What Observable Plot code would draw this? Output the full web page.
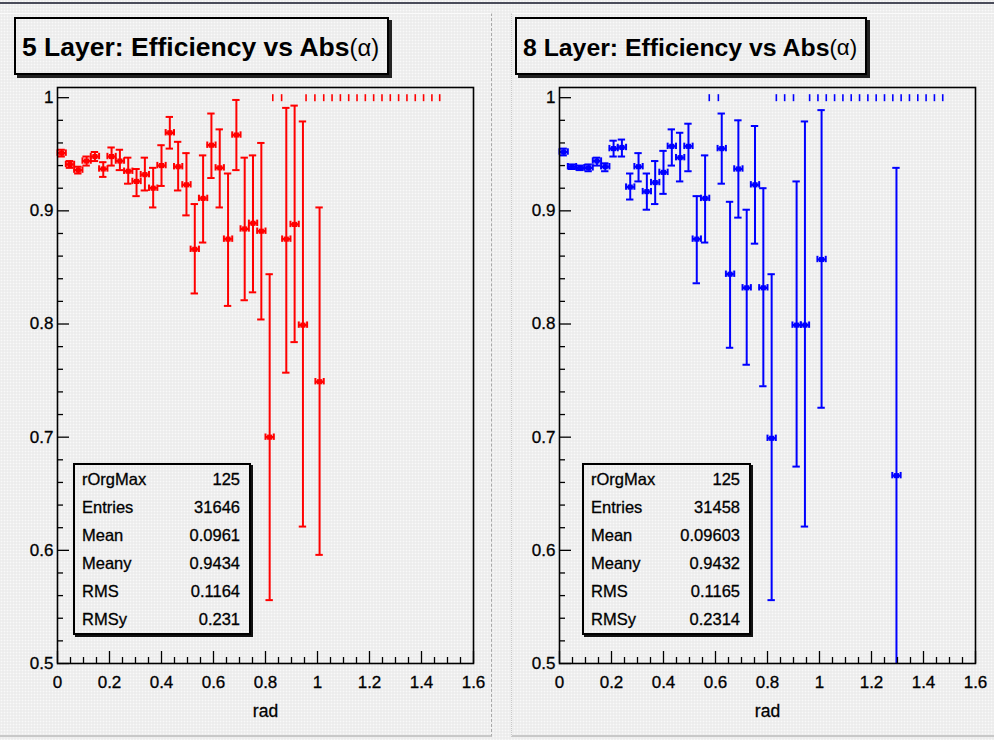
<!DOCTYPE html>
<html>
<head>
<meta charset="utf-8">
<script src="https://cdn.jsdelivr.net/npm/d3@7"></script>
<script src="https://cdn.jsdelivr.net/npm/@observablehq/plot@0.6"></script>
<style>
  html, body { margin: 0; padding: 0; }
  body { width: 994px; height: 740px; overflow: hidden; font-family: "Liberation Sans", Arial, Helvetica, sans-serif; }
  #root { position: relative; width: 994px; height: 740px;
    background-color: #ececec;
    background-image: radial-gradient(circle, #f9f9f9 0.8px, transparent 1.1px);
    background-size: 3px 3px; }
  .pad { position: absolute; box-sizing: border-box; }
  .plot { position: absolute; top: 80px; }
  .plot text { stroke: #000; stroke-width: 0.3px; }
  .title { position: absolute; top: 17px; height: 58px; box-sizing: border-box;
    border: 2px solid #000; box-shadow: 3px 3px 0 #222;
    display: flex; align-items: center; padding-left: 6px; padding-top: 3px;
    font-weight: bold; color: #000; white-space: nowrap; }
  .title .sym { font-weight: normal; font-size: 0.9em; }
  .stats { position: absolute; top: 463px; height: 172px; box-sizing: border-box;
    border: 2px solid #000; box-shadow: 2px 2px 0 #111; font-size: 16.5px; color: #000;
    -webkit-text-stroke: 0.3px #000; }
  .stats .row { height: 28.0px; display: flex; justify-content: space-between; align-items: center;
    padding: 0 9px 0 7px; }
  #topline { position: absolute; left: 0; top: 2px; width: 994px; height: 2px; background: #4a4c5a; }
</style>
</head>
<body>
<div id="root">
  <div id="topline"></div>
  <div class="pad" style="left:0;top:13px;width:492px;height:724px;border-top:1px solid #fbfbfb;border-right:1px dashed #a8a8a8;border-bottom:2px solid #c8c8c8;"></div>
  <div class="pad" style="left:511px;top:13px;width:483px;height:724px;border-left:1px dotted #c8c8c8;border-top:1px solid #fbfbfb;border-bottom:2px solid #c8c8c8;"></div>
</div>
<script>
// ---------- data ----------
const titles = ["5 Layer: Efficiency vs Abs", "8 Layer: Efficiency vs Abs"];
const titleSym = "(\u03b1)";
const axisLabel = "rad";

const xTickValues = [0, 0.2, 0.4, 0.6, 0.8, 1, 1.2, 1.4, 1.6];
const yTickValues = [0.5, 0.6, 0.7, 0.8, 0.9, 1];

// 5 layer (red)
const x5 = [0.016,0.048,0.080,0.112,0.144,0.176,0.208,0.240,0.272,0.304,0.336,0.368,0.400,0.432,0.464,0.496,0.528,0.560,0.592,0.624,0.656,0.688,0.720,0.752,0.784,0.816,0.880,0.912,0.944,1.008];
const eff5 = [0.951,0.941,0.936,0.944,0.948,0.937,0.948,0.944,0.935,0.926,0.932,0.920,0.940,0.969,0.939,0.923,0.866,0.911,0.958,0.938,0.875,0.967,0.884,0.889,0.882,0.700,0.875,0.888,0.799,0.749];
const lo5 = [0.948,0.938,0.933,0.940,0.944,0.930,0.940,0.936,0.924,0.913,0.918,0.903,0.922,0.955,0.918,0.896,0.827,0.872,0.929,0.903,0.816,0.936,0.821,0.828,0.804,0.556,0.757,0.784,0.621,0.596];
const hi5 = [0.954,0.944,0.939,0.948,0.952,0.943,0.956,0.954,0.947,0.937,0.947,0.938,0.958,0.983,0.961,0.951,0.906,0.949,0.986,0.972,0.933,0.998,0.947,0.949,0.960,0.844,0.991,0.993,0.979,0.903];
const ones5 = [0.828,0.862,0.956,0.990,1.024,1.056,1.088,1.120,1.152,1.184,1.216,1.248,1.280,1.312,1.344,1.376,1.408,1.440,1.470];

// 8 layer (blue)
const x8 = [0.016,0.048,0.080,0.112,0.144,0.176,0.208,0.240,0.272,0.304,0.336,0.368,0.400,0.432,0.464,0.496,0.528,0.560,0.624,0.656,0.688,0.720,0.752,0.784,0.816,0.912,0.944,1.008,1.296];
const eff8 = [0.952,0.939,0.938,0.938,0.944,0.939,0.955,0.956,0.921,0.939,0.917,0.925,0.934,0.957,0.947,0.957,0.875,0.911,0.955,0.844,0.937,0.832,0.923,0.832,0.699,0.799,0.799,0.857,0.666];
const lo8 = [0.949,0.937,0.936,0.935,0.940,0.935,0.948,0.948,0.910,0.926,0.901,0.906,0.915,0.940,0.926,0.935,0.836,0.872,0.924,0.779,0.894,0.764,0.871,0.745,0.556,0.674,0.621,0.726,0.45];
const hi8 = [0.955,0.941,0.940,0.941,0.947,0.942,0.962,0.963,0.933,0.951,0.933,0.944,0.953,0.972,0.969,0.977,0.913,0.949,0.986,0.908,0.980,0.901,0.975,0.920,0.844,0.926,0.979,0.989,0.938];
const ones8 = [0.576,0.611,0.834,0.866,0.900,0.962,0.994,1.026,1.058,1.090,1.122,1.154,1.186,1.218,1.250,1.282,1.314,1.346,1.378,1.410,1.442,1.474];

const statLabels = ["rOrgMax", "Entries", "Mean", "Meany", "RMS", "RMSy"];
const stats5 = ["125", "31646", "0.0961", "0.9434", "0.1164", "0.231"];
const stats8 = ["125", "31458", "0.09603", "0.9432", "0.1165", "0.2314"];

// ---------- drawing ----------
const W = 495, H = 650, ML = 57, MR = 22, MT = 7, MB = 67;
const innerW = W - ML - MR, innerH = H - MT - MB;
const xDomain = [0, 1.6], yDomain = [0.5, 1.009];
const ux = (xDomain[1] - xDomain[0]) / innerW;   // data units per px
const uy = (yDomain[1] - yDomain[0]) / innerH;

const fmt = d => String(+d.toFixed(2));

function panel(xs, effs, los, his, ones, color) {
  const data = xs.map((x, i) => ({x, v: effs[i], lo: los[i], hi: his[i]}));
  const xMinor = d3.range(0, 1.6001, 0.05).filter(t => Math.abs(t / 0.2 - Math.round(t / 0.2)) > 1e-6);
  const yMinor = d3.range(0.5, 1.0001, 0.02).filter(t => Math.abs(t / 0.1 - Math.round(t / 0.1)) > 1e-6);
  const bh = 0.016;          // half bin width
  const capX = 3.7 * ux;     // half-width of vertical error-bar caps
  const capY = 3.2 * uy;     // half-height of horizontal end caps
  return Plot.plot({
    width: W, height: H,
    marginLeft: ML, marginRight: MR, marginTop: MT, marginBottom: MB,
    style: {background: "transparent", fontFamily: "'Liberation Sans', Arial, sans-serif", fontSize: "17px", color: "#000", overflow: "visible"},
    x: {domain: xDomain, ticks: xTickValues, tickSize: 0, tickPadding: 12, tickFormat: fmt, label: null},
    y: {domain: yDomain, ticks: yTickValues, tickSize: 0, tickPadding: 4, tickFormat: fmt, label: null},
    marks: [
      // error bars
      Plot.ruleX(data, {x: "x", y1: "lo", y2: "hi", stroke: color, strokeWidth: 2, clip: true}),
      Plot.ruleY(data.filter(d => d.lo >= yDomain[0]), {y: "lo", x1: d => d.x - capX, x2: d => d.x + capX, stroke: color, strokeWidth: 2}),
      Plot.ruleY(data, {y: "hi", x1: d => d.x - capX, x2: d => d.x + capX, stroke: color, strokeWidth: 2}),
      Plot.ruleY(data, {y: "v", x1: d => d.x - bh, x2: d => d.x + bh, stroke: color, strokeWidth: 2.4}),
      Plot.ruleX(data, {x: d => d.x - bh, y1: d => d.v - capY, y2: d => d.v + capY, stroke: color, strokeWidth: 2}),
      Plot.ruleX(data, {x: d => d.x + bh, y1: d => d.v - capY, y2: d => d.v + capY, stroke: color, strokeWidth: 2}),
      Plot.dot(data, {x: "x", y: "v", symbol: "square", r: 2.9, fill: color, stroke: null}),
      // efficiency = 1 bins
      Plot.ruleX(ones, {x: d => d, y1: 1 - 4 * uy, y2: 1 + 3 * uy, stroke: color, strokeWidth: 1.6}),
      // axis ticks drawn inside the frame (ROOT style)
      Plot.tickX(xTickValues, {x: d => d, insetTop: innerH - 12, stroke: "#000", strokeWidth: 1.3}),
      Plot.tickX(xMinor, {x: d => d, insetTop: innerH - 6, stroke: "#000", strokeWidth: 1.3}),
      Plot.tickY(yTickValues, {y: d => d, insetRight: innerW - 12, stroke: "#000", strokeWidth: 1.3}),
      Plot.tickY(yMinor, {y: d => d, insetRight: innerW - 6, stroke: "#000", strokeWidth: 1.3}),
      Plot.frame({stroke: "#000", strokeWidth: 1.6}),
      Plot.text([axisLabel], {text: d => d, frameAnchor: "bottom", dy: 53, fontSize: 17.5, fill: "#000"})
    ]
  });
}

const root = document.getElementById("root");
const panels = [
  {left: 0, xs: x5, effs: eff5, los: lo5, his: hi5, ones: ones5, color: "#ff0000", title: titles[0], tLeft: 14, tWidth: 375, tSize: 26.5, stats: stats5, sLeft: 73, sWidth: 178},
  {left: 502, xs: x8, effs: eff8, los: lo8, his: hi8, ones: ones8, color: "#0000ff", title: titles[1], tLeft: 515, tWidth: 352, tSize: 24.8, stats: stats8, sLeft: 582, sWidth: 169}
];
for (const p of panels) {
  const svg = panel(p.xs, p.effs, p.los, p.his, p.ones, p.color);
  svg.classList.add("plot");
  svg.style.left = p.left + "px";
  svg.style.position = "absolute";
  root.appendChild(svg);

  const t = document.createElement("div");
  t.className = "title";
  t.style.left = p.tLeft + "px";
  t.style.width = p.tWidth + "px";
  t.style.fontSize = p.tSize + "px";
  t.textContent = p.title;
  const s = document.createElement("span");
  s.className = "sym";
  s.textContent = titleSym;
  t.appendChild(s);
  root.appendChild(t);

  const box = document.createElement("div");
  box.className = "stats";
  box.style.left = p.sLeft + "px";
  box.style.width = p.sWidth + "px";
  statLabels.forEach((lab, i) => {
    const row = document.createElement("div");
    row.className = "row";
    const a = document.createElement("span"); a.textContent = lab;
    const b = document.createElement("span"); b.textContent = p.stats[i];
    row.appendChild(a); row.appendChild(b);
    box.appendChild(row);
  });
  root.appendChild(box);
}
</script>
</body>
</html>
